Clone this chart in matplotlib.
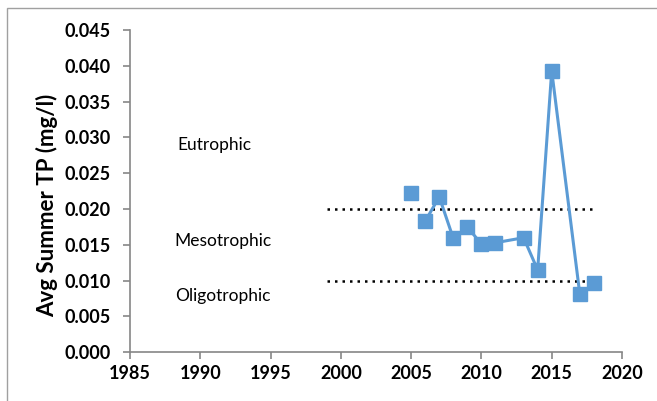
import matplotlib

matplotlib.use("Agg")

import matplotlib.pyplot as plt
from matplotlib.patches import Rectangle
import numpy as np

years = [2005, 2006, 2007, 2008, 2009, 2010, 2011, 2013, 2014, 2015, 2017, 2018]
tp = [0.0223, 0.0183, 0.0217, 0.0159, 0.0175, 0.0151, 0.0153, 0.0160, 0.0115, 0.0393, 0.0081, 0.0097]
# which consecutive points are joined by a line in the original chart
joined = [False, True, True, False, True, True, True, True, True, True, False]

boundary_years = [1999, 2018]
eutrophic_limit = 0.020
oligotrophic_limit = 0.010

zone_labels = ["Eutrophic", "Mesotrophic", "Oligotrophic"]
zone_label_x = [1991.0, 1991.6, 1991.6]
zone_label_y = [0.0289, 0.0155, 0.0079]

x_ticks = np.arange(1985, 2021, 5)
y_ticks = np.arange(0, 0.0451, 0.005)

BLUE = "#5B9BD5"
GRAY = "#868686"
FONT = "Lato"

W, H = 657, 401
fig = plt.figure(figsize=(W / 100, H / 100), dpi=100)
ax = fig.add_axes([130 / W, 1 - 352.3 / H, (622 - 130) / W, (352.3 - 30) / H])

# outer chart frame (clipped at right and bottom like the source)
fig.patches.append(Rectangle((7 / W, -0.1), 1.2, 1 - 8 / H + 0.1, transform=fig.transFigure,
                             fill=False, edgecolor="#A0A0A0", linewidth=1.0))

for lim in (eutrophic_limit, oligotrophic_limit):
    ax.plot(boundary_years, [lim, lim], color="black", linestyle=(0, (1, 2.0)), linewidth=1.8)

# line segments
start = 0
for i in range(len(years)):
    if i == len(years) - 1 or not joined[i]:
        if i > start:
            ax.plot(years[start:i + 1], tp[start:i + 1], color=BLUE, linewidth=2.2, zorder=3)
        start = i + 1
ax.plot(years, tp, linestyle="none", marker="s", markersize=10, color=BLUE, zorder=4)

for label, lx, ly in zip(zone_labels, zone_label_x, zone_label_y):
    ax.text(lx, ly, label, ha="center", va="center", fontsize=12.5, family=FONT)

ax.set_xlim(1985, 2020)
ax.set_ylim(0, 0.045)
ax.set_xticks(x_ticks)
ax.set_yticks(y_ticks)
ax.set_yticklabels([f"{v:.3f}" for v in y_ticks])
for lbl in ax.get_xticklabels() + ax.get_yticklabels():
    lbl.set_fontweight("bold")
    lbl.set_fontsize(13)
    lbl.set_family(FONT)

ax.spines["top"].set_visible(False)
ax.spines["right"].set_visible(False)
for side in ("left", "bottom"):
    ax.spines[side].set_color(GRAY)
    ax.spines[side].set_linewidth(1.2)
ax.tick_params(axis="both", direction="out", length=5, width=1.2, color=GRAY)
ax.tick_params(axis="y", pad=9)
ax.tick_params(axis="x", pad=4)

ax.set_ylabel("Avg Summer TP (mg/l)", fontsize=16, fontweight="bold", family=FONT)
ax.yaxis.set_label_coords(-0.146, 0.455)

fig.savefig("out.png", dpi=100)
